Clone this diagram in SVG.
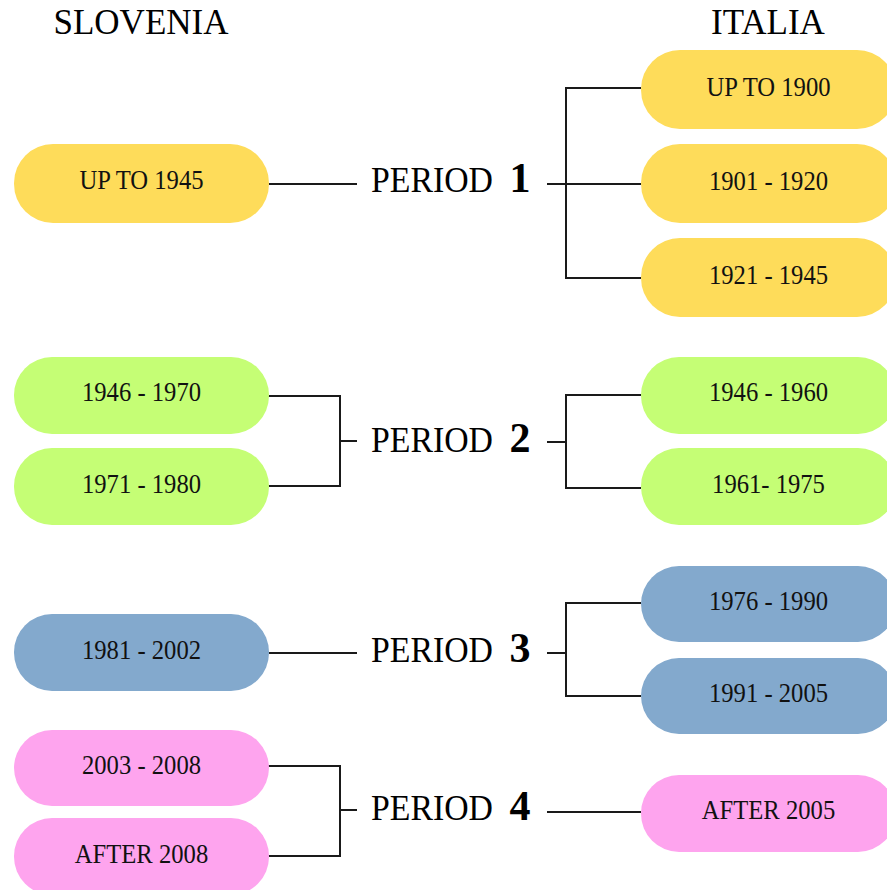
<svg xmlns="http://www.w3.org/2000/svg" width="887" height="890" viewBox="0 0 887 890">
<style>
.hdr{font-family:"Liberation Serif","Times New Roman",serif;font-size:35px;fill:#000;text-anchor:middle}
.bt{font-family:"Liberation Serif","Times New Roman",serif;font-size:28px;fill:#111;text-anchor:middle}
.pl{font-family:"Liberation Serif","Times New Roman",serif;font-size:35px;fill:#000}
.pn{font-family:"Liberation Serif","Times New Roman",serif;font-size:42px;font-weight:bold;fill:#000;text-anchor:middle}
.y{fill:#FEDC5A}.g{fill:#C5FE75}.b{fill:#83A9CD}.p{fill:#FEA4EE}
.c{fill:none;stroke:#1a1a1a;stroke-width:2}
</style>
<rect width="887" height="890" fill="#fff"/>
<g id="headers">
<text class="hdr" x="141" y="34">SLOVENIA</text>
<text class="hdr" x="768" y="34">ITALIA</text>
</g>
<g id="connectors">
<path class="c" d="M269,184 H357"/>
<path class="c" d="M547,184 H641 M641,88 H566 V278 H641"/>
<path class="c" d="M266,396 H340 V486 H266 M340,441 H357"/>
<path class="c" d="M547,442 H566 M641,395 H566 V488 H641"/>
<path class="c" d="M269,653 H357"/>
<path class="c" d="M547,653 H566 M641,603 H566 V696 H641"/>
<path class="c" d="M266,766 H340 V856 H266 M340,810 H357"/>
<path class="c" d="M547,812 H641"/>
</g>
<g id="period1"><text class="pl" x="371" y="192" textLength="122" lengthAdjust="spacingAndGlyphs">PERIOD</text><text class="pn" x="520" y="192">1</text></g>
<g id="period2"><text class="pl" x="371" y="452" textLength="122" lengthAdjust="spacingAndGlyphs">PERIOD</text><text class="pn" x="520" y="452">2</text></g>
<g id="period3"><text class="pl" x="371" y="662" textLength="122" lengthAdjust="spacingAndGlyphs">PERIOD</text><text class="pn" x="520" y="662">3</text></g>
<g id="period4"><text class="pl" x="371" y="820" textLength="122" lengthAdjust="spacingAndGlyphs">PERIOD</text><text class="pn" x="520" y="820">4</text></g>

<g id="si-upto1945"><rect class="y" x="14" y="144" width="255" height="79" rx="39"/><text class="bt" transform="translate(141.5,189) scale(0.88,1)">UP TO 1945</text></g>
<g id="si-1946-1970"><rect class="g" x="14" y="357" width="255" height="77" rx="38"/><text class="bt" transform="translate(141.5,401) scale(0.88,1)">1946 - 1970</text></g>
<g id="si-1971-1980"><rect class="g" x="14" y="448" width="255" height="77" rx="38"/><text class="bt" transform="translate(141.5,492.5) scale(0.88,1)">1971 - 1980</text></g>
<g id="si-1981-2002"><rect class="b" x="14" y="614" width="255" height="77" rx="38"/><text class="bt" transform="translate(141.5,658.5) scale(0.88,1)">1981 - 2002</text></g>
<g id="si-2003-2008"><rect class="p" x="14" y="730" width="255" height="76" rx="38"/><text class="bt" transform="translate(141.5,773.5) scale(0.88,1)">2003 - 2008</text></g>
<g id="si-after2008"><rect class="p" x="14" y="818" width="255" height="77" rx="38"/><text class="bt" transform="translate(141.5,863) scale(0.88,1)">AFTER 2008</text></g>

<g id="it-upto1900"><rect class="y" x="641" y="50" width="255" height="79" rx="39"/><text class="bt" transform="translate(768.5,96) scale(0.88,1)">UP TO 1900</text></g>
<g id="it-1901-1920"><rect class="y" x="641" y="144" width="255" height="79" rx="39"/><text class="bt" transform="translate(768.5,190) scale(0.88,1)">1901 - 1920</text></g>
<g id="it-1921-1945"><rect class="y" x="641" y="238" width="255" height="79" rx="39"/><text class="bt" transform="translate(768.5,283.5) scale(0.88,1)">1921 - 1945</text></g>
<g id="it-1946-1960"><rect class="g" x="641" y="357" width="255" height="77" rx="38"/><text class="bt" transform="translate(768.5,401) scale(0.88,1)">1946 - 1960</text></g>
<g id="it-1961-1975"><rect class="g" x="641" y="448" width="255" height="77" rx="38"/><text class="bt" transform="translate(768.5,492.5) scale(0.88,1)">1961- 1975</text></g>
<g id="it-1976-1990"><rect class="b" x="641" y="566" width="255" height="76" rx="38"/><text class="bt" transform="translate(768.5,609.5) scale(0.88,1)">1976 - 1990</text></g>
<g id="it-1991-2005"><rect class="b" x="641" y="658" width="255" height="76" rx="38"/><text class="bt" transform="translate(768.5,701.5) scale(0.88,1)">1991 - 2005</text></g>
<g id="it-after2005"><rect class="p" x="641" y="775" width="255" height="77" rx="38"/><text class="bt" transform="translate(768.5,818.5) scale(0.88,1)">AFTER 2005</text></g>
</svg>
